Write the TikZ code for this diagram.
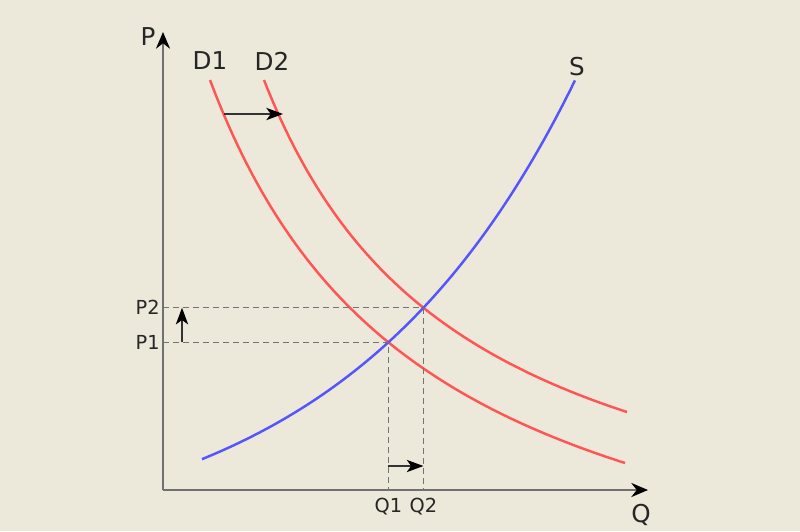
\documentclass[tikz,border=0pt]{standalone}
\usepackage{fontspec}
\setmainfont{DejaVu Sans}
\usetikzlibrary{arrows.meta, intersections}
\definecolor{bgbeige}{HTML}{ECE8DA}
\definecolor{demandred}{HTML}{FF5555}
\definecolor{supplyblue}{HTML}{5555FF}
\definecolor{axisgray}{HTML}{707070}

\begin{document}
\begin{tikzpicture}[x=0.02cm, y=-0.02cm, >={Stealth[length=9.5pt, width=8pt, black]},
    curve/.style={line width=1.4pt},
    guide/.style={dash pattern=on 3.4pt off 2.3pt, black!55, line width=0.6pt},
    shiftarrow/.style={-{Stealth[length=9.5pt, width=7pt, inset=2.5pt, black]}, line width=0.75pt, black!80},
    biglabel/.style={font=\fontsize{14}{16}\selectfont, text=black!85},
    smalllabel/.style={font=\fontsize{11}{13}\selectfont, text=black!85}]
    % background
    \fill[bgbeige] (0,0) rectangle (800,531);
    \useasboundingbox (0,0) rectangle (800,531);

    % axes
    \coordinate (O) at (163,490);
    \coordinate (ptop) at (163,32);
    \coordinate (qend) at (648,490);
    \draw[->, axisgray, line width=1.2pt] (O) -- (ptop);
    \draw[->, axisgray, line width=1.2pt] (O) -- (qend);
    \node[biglabel] (plabel) at (148,37) {P};
    \node[biglabel] (qlabel) at (641,515) {Q};

    % demand and supply curves
    \draw[demandred, curve, name path=d1] plot[domain=210:625, samples=90]
        (\x, {666.4 - 1292.42/((\x+10.4)/100)});
    \draw[demandred, curve, name path=d2] plot[domain=264:627, samples=90]
        (\x, {597.6 - 1050.2/((\x-61.1)/100)});
    \draw[supplyblue, curve, name path=s] plot[domain=202:575, samples=90]
        (\x, {553.7 - 39.52*exp(0.004325*\x)});
    \node[biglabel] (d1label) at (210,61) {D1};
    \node[biglabel] (d2label) at (272,61) {D2};
    \node[biglabel] (slabel) at (577,67) {S};

    % equilibria
    \path[name intersections={of=d1 and s, by=e1}];
    \path[name intersections={of=d2 and s, by=e2}];
    \draw[guide] (O |- e1) -- (e1) -- (O -| e1);
    \draw[guide] (O |- e2) -- (e2) -- (O -| e2);
    \coordinate (pleft) at (160,490);
    \coordinate (qbelow) at (0,496);
    \node[smalllabel, anchor=east, inner sep=0pt] (p1) at (pleft |- e1) {P1};
    \node[smalllabel, anchor=east, inner sep=0pt] (p2) at (pleft |- e2) {P2};
    \node[smalllabel, anchor=north, inner sep=1pt] (q1) at (qbelow -| e1) {Q1};
    \node[smalllabel, anchor=north, inner sep=1pt] (q2) at (qbelow -| e2) {Q2};

    % shifts
    \coordinate (dfrom) at (224,114);
    \coordinate (dto) at (283,114);
    \draw[shiftarrow] (dfrom) -- (dto);
    \coordinate (pcol) at (182,0);
    \draw[shiftarrow] (pcol |- e1) -- (pcol |- e2);
    \coordinate (qrow) at (0,466);
    \draw[shiftarrow] (qrow -| e1) -- (qrow -| e2);
\end{tikzpicture}
\end{document}
